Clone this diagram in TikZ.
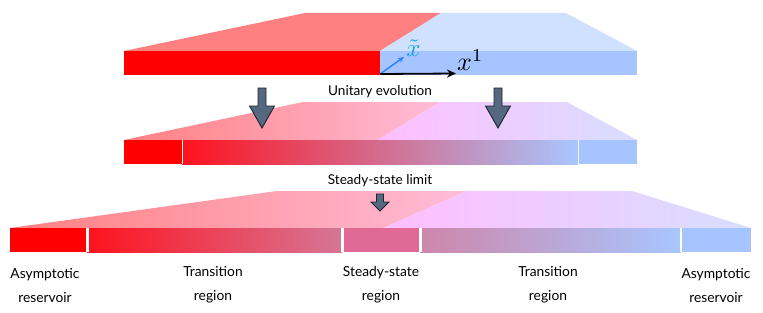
\documentclass[tikz,border=0pt]{standalone}
\usepackage{fontspec}
\setmainfont{Lato}
\usetikzlibrary{arrows.meta}
\definecolor{frontred}{RGB}{255,0,0}
\definecolor{topred}{RGB}{255,128,128}
\definecolor{frontblue}{RGB}{166,196,255}
\definecolor{topblue}{RGB}{208,224,255}
\definecolor{tA}{RGB}{255,128,130}
\definecolor{tB}{RGB}{255,188,215}
\definecolor{tC}{RGB}{255,190,255}
\definecolor{tD}{RGB}{216,222,255}
\definecolor{gA}{RGB}{255,18,30}
\definecolor{gM}{RGB}{214,118,150}
\definecolor{gB}{RGB}{168,198,255}
\definecolor{steady}{RGB}{225,105,150}
\definecolor{gR}{RGB}{206,134,170}
\definecolor{arrfill}{RGB}{84,104,128}
\definecolor{arrline}{RGB}{30,35,45}
\definecolor{xtcol}{RGB}{20,160,230}
\definecolor{xtarrow}{RGB}{50,130,255}
\newcommand{\myDownArrow}[6]{\filldraw[dnarrow] ({#1-#5},#2) -- ({#1+#5},#2) -- ({#1+#5},#3) -- ({#1+#6},#3) -- (#1,#4) -- ({#1-#6},#3) -- ({#1-#5},#3) -- cycle;}
\tikzset{
  dnarrow/.style={fill=arrfill, draw=arrline, line width=0.9pt, line join=miter},
  caption/.style={font=\fontsize{13.6}{15}\selectfont, inner sep=0pt},
  region/.style={font=\fontsize{13.8}{24}\selectfont, align=center, inner sep=0pt},
  sep/.style={draw=white, line width=2.2pt},
  thinsep/.style={draw=white!85!pink, line width=0.6pt}
}
\begin{document}
\begin{tikzpicture}[x=1pt,y=-1pt]
\useasboundingbox (0,0) rectangle (763,313);

% ---------- top slab ----------
\fill[topred] (124,51) -- (305,13) -- (441,13) -- (380,51) -- cycle;
\fill[topblue] (380,51) -- (441,13) -- (566,13) -- (637,51) -- cycle;
\fill[frontred] (124,51) rectangle (380,75);
\fill[frontblue] (380,51) rectangle (637,75);

\coordinate (o) at (380,74);
\coordinate (xtend) at (404,57);
\coordinate (x1end) at (456,73.5);
\draw[xtarrow, line width=1.5pt, -{Stealth[length=6pt,width=5.5pt]}] (o) -- (xtend);
\draw[black, line width=1.8pt, -{Stealth[length=9pt,width=8pt]}] (o) -- (x1end);
\node[text=xtcol, scale=2.5, inner sep=0pt, anchor=base] (xt) at (413.5,56.7) {$\tilde{x}$};
\node[scale=2.6, anchor=base west, inner sep=0pt] (x1) at (456.5,70.7) {$x^1$};

% ---------- middle slab ----------
\shade[left color=tA, right color=tB] (124,140) -- (303,102) -- (440,102) -- (378,140) -- cycle;
\shade[left color=tC, right color=tD] (378,140) -- (440,102) -- (567,102) -- (637,140) -- cycle;
\fill[frontred] (124,140) rectangle (182,164);
\shade[left color=gA, middle color=gM, right color=gB] (182,140) rectangle (578,164);
\fill[frontblue] (578,140) rectangle (637,164);
\draw[thinsep] (182,140) -- (182,164);
\draw[thinsep] (578,140) -- (578,164);

\node[caption] (unit) at (380,92) {Unitary evolution};
\myDownArrow{262}{88}{106}{128}{4}{12.5}
\myDownArrow{498}{88}{106}{128}{4}{12.5}

% ---------- bottom slab ----------
\shade[left color=tA, right color=tB] (10,228) -- (277,191) -- (467,191) -- (383,228) -- cycle;
\shade[left color=tC, right color=tD] (383,228) -- (467,191) -- (632,191) -- (751,228) -- cycle;
\fill[frontred] (10,228) rectangle (87,252);
\shade[left color=gA, right color=gM] (87,228) rectangle (342,252);
\fill[steady] (342,228) rectangle (420,252);
\shade[left color=gR, right color=gB] (420,228) rectangle (681,252);
\fill[frontblue] (681,228) rectangle (751,252);
\draw[sep] (87.5,228) -- (87.5,252);
\draw[sep] (342.5,228) -- (342.5,252);
\draw[sep] (420.5,228) -- (420.5,252);
\draw[sep] (681,228) -- (681,252);

\node[caption] (steadylim) at (380,181) {Steady-state limit};
\myDownArrow{380}{194}{202}{211}{3.5}{9}

% ---------- labels ----------
\node[region] (l1) at (45,285) {Asymptotic\\reservoir};
\node[region] (l2) at (213,285) {Transition\\region};
\node[region] (l3) at (381,285) {Steady-state\\region};
\node[region] (l4) at (548,285) {Transition\\region};
\node[region] (l5) at (716,285) {Asymptotic\\reservoir};
\end{tikzpicture}
\end{document}
